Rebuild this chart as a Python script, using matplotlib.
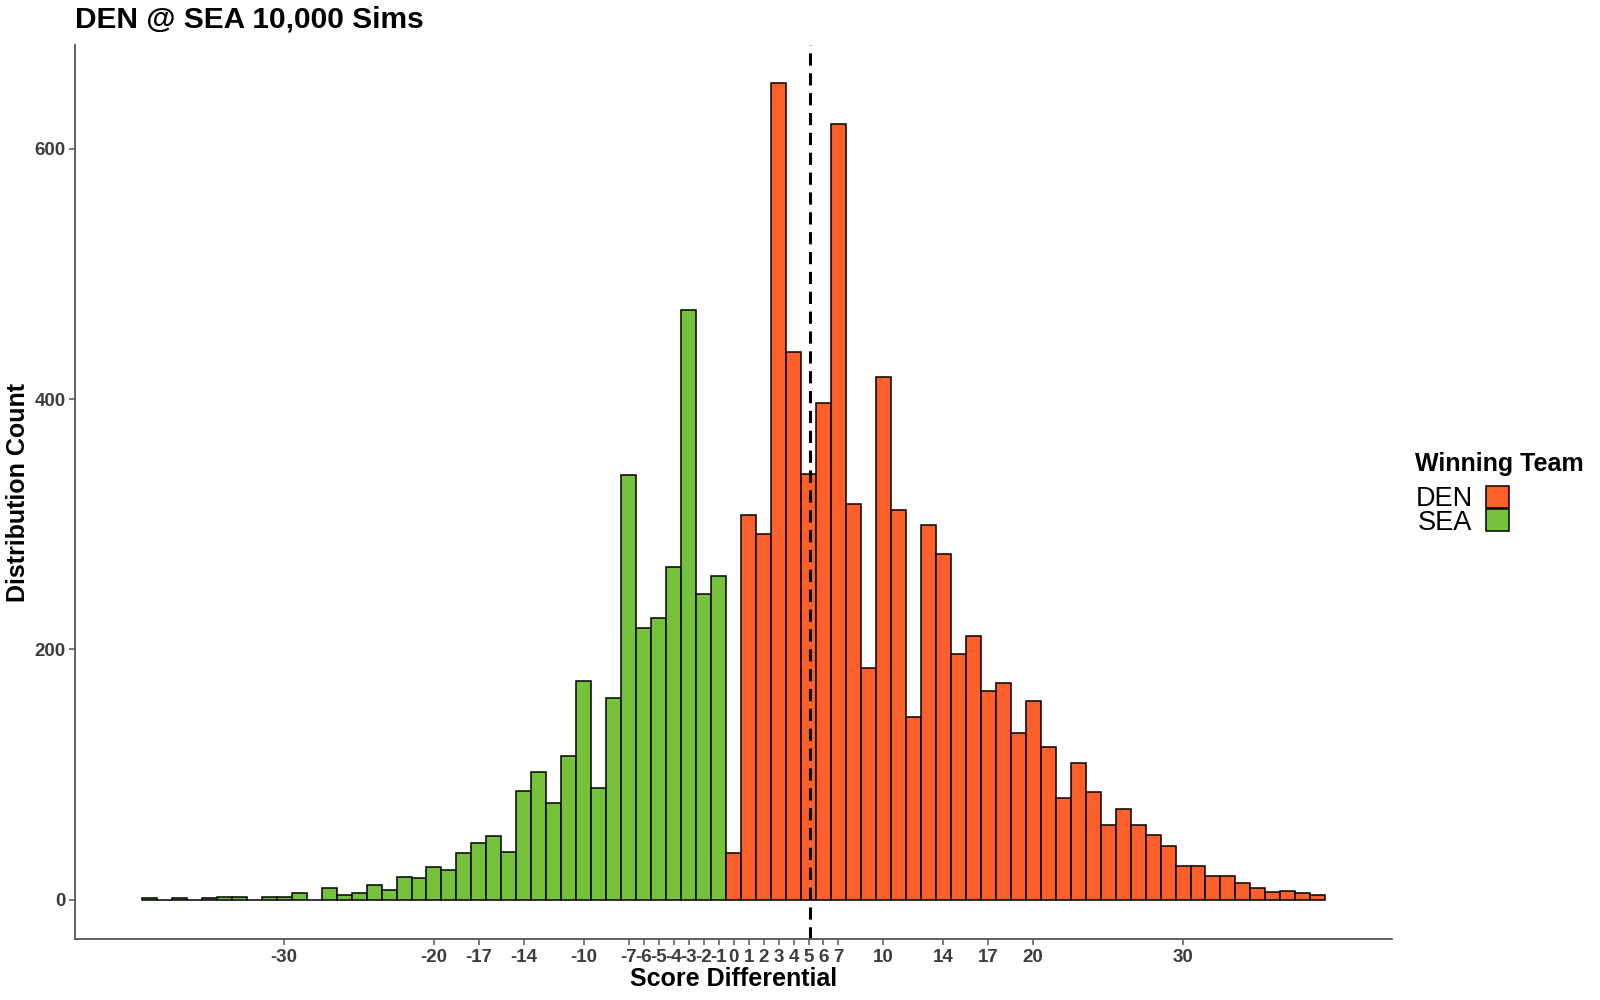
import numpy as np
import matplotlib.pyplot as plt
from matplotlib.patches import Patch

plt.rcParams['font.family'] = ['Liberation Sans', 'DejaVu Sans']

# score differential (DEN - SEA), one bin per point
score_diff = np.arange(-39, 40)
counts = [1, 0, 1, 0, 1, 2, 2, 0, 2, 2,
          5, 0, 9, 4, 5, 12, 8, 18, 17, 26,
          24, 37, 45, 51, 38, 87, 102, 77, 115, 175,
          89, 161, 339, 217, 225, 266, 471, 244, 259, 37,
          307, 292, 653, 438, 340, 397, 620, 316, 185, 418,
          311, 146, 299, 276, 196, 211, 167, 173, 133, 159,
          122, 81, 109, 86, 60, 72, 60, 52, 43, 27,
          27, 19, 19, 13, 9, 6, 7, 5, 4]
teams = ['DEN', 'SEA']
team_colors = {'DEN': '#FE602C', 'SEA': '#76C23A'}
mean_diff = 5.1
x_ticks = [-30, -20, -17, -14, -10, -7, -6, -5, -4, -3, -2, -1, 0,
           1, 2, 3, 4, 5, 6, 7, 10, 14, 17, 20, 30]
y_ticks = [0, 200, 400, 600]

winner = np.where(score_diff >= 0, 'DEN', 'SEA')
bar_colors = [team_colors[w] for w in winner]

fig = plt.figure(figsize=(16, 10), dpi=100)
ax = fig.add_axes([0.047, 0.061, 0.823, 0.894])

ax.bar(score_diff, counts, width=1.0, color=bar_colors,
       edgecolor='black', linewidth=1.1)
ax.axvline(mean_diff, color='black', linestyle=(0, (4, 2.5)), linewidth=2.2)

ax.set_xlim(-43.95, 43.95)
ax.set_ylim(-31.5, 683)
ax.set_xticks(x_ticks)
ax.set_xticklabels([str(t) for t in x_ticks])
ax.set_yticks(y_ticks)

for s in ['top', 'right']:
    ax.spines[s].set_visible(False)
for s in ['left', 'bottom']:
    ax.spines[s].set_color('#555555')
    ax.spines[s].set_linewidth(1.3)
ax.tick_params(axis='both', colors='#555555', length=4, width=1.1,
               labelsize=13.5, labelcolor='#3d3d3d', pad=3)
for lab in ax.get_xticklabels() + ax.get_yticklabels():
    lab.set_fontweight('bold')

ax.set_xlabel('Score Differential', fontsize=18, fontweight='bold', labelpad=1)
ax.set_ylabel('Distribution Count', fontsize=18, fontweight='bold', labelpad=3)
fig.text(0.047, 0.981, 'DEN @ SEA 10,000 Sims', fontsize=21.5,
         fontweight='bold', ha='left', va='center')

# legend: title as its own text, entries with labels before keys
fig.text(0.8846, 0.536, 'Winning Team', fontsize=18, fontweight='bold',
         ha='left', va='center')
handles = [Patch(facecolor=team_colors[t], edgecolor='black', linewidth=1.1)
           for t in teams]
leg = fig.legend(handles, teams, loc='upper left',
                 bbox_to_anchor=(0.8846, 0.514), frameon=False,
                 markerfirst=False, fontsize=19.5,
                 handlelength=0.85, handleheight=0.85, labelspacing=-0.1,
                 handletextpad=0.5, borderaxespad=0, borderpad=0)

fig.savefig('out.png', dpi=100)
